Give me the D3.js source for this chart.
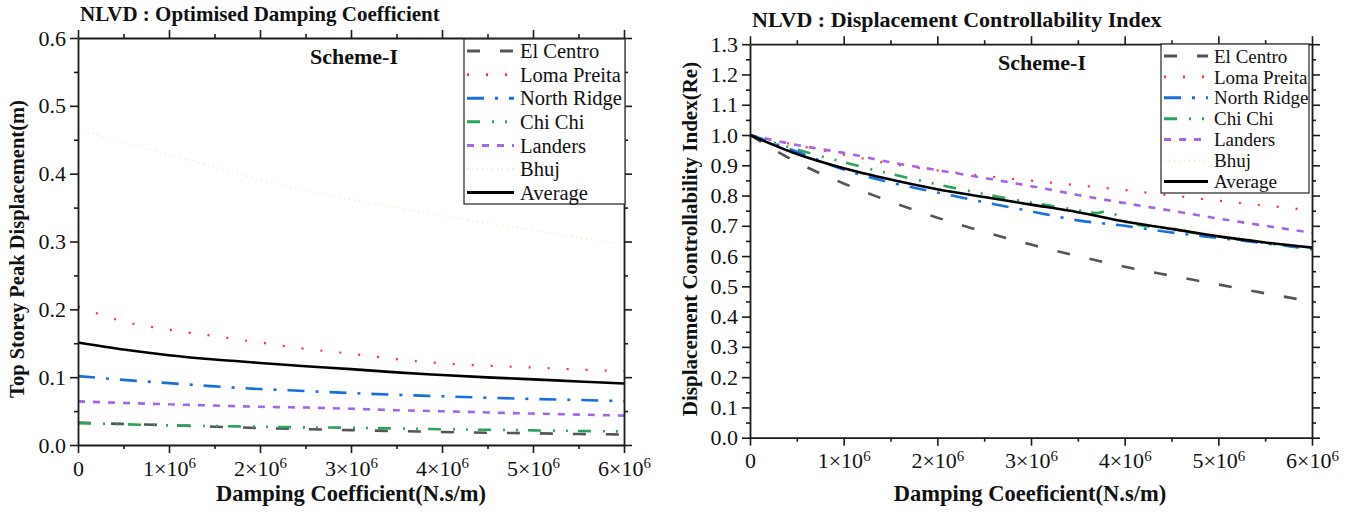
<!DOCTYPE html>
<html>
<head>
<meta charset="utf-8">
<script src="https://cdn.jsdelivr.net/npm/d3@7"></script>
<style>
  body { margin: 0; background: #fff; }
  svg text { font-family: "Liberation Serif", "Times New Roman", "DejaVu Serif", serif; fill: #111; }
</style>
</head>
<body>
<svg id="chart" width="1354" height="512" font-family="Liberation Serif"></svg>
<script>
// damping coefficient values (N.s/m)
const dampX = [0, 0.5e6, 1e6, 1.5e6, 2e6, 2.5e6, 3e6, 3.5e6, 4e6, 4.5e6, 5e6, 5.5e6, 6e6];
const dampXChiChiRe = [0, 0.5e6, 1e6, 1.5e6, 2e6, 2.5e6, 3e6, 3.5e6, 3.7e6, 3.82e6, 3.95e6, 4e6, 4.5e6, 5e6, 5.5e6, 6e6];

const seriesNames = ["El Centro", "Loma Preita", "North Ridge", "Chi Chi", "Landers", "Bhuj", "Average"];

// top storey peak displacement (m)
const peakElCentro = [0.033, 0.031, 0.0292, 0.027, 0.025, 0.0234, 0.0219, 0.0205, 0.0192, 0.018, 0.0173, 0.0162, 0.0155];
const peakLomaPreita = [0.204, 0.182, 0.170, 0.1605, 0.151, 0.1417, 0.1345, 0.1265, 0.1204, 0.1168, 0.1142, 0.1113, 0.1088];
const peakNorthRidge = [0.1015, 0.096, 0.0912, 0.0864, 0.0825, 0.0796, 0.0766, 0.074, 0.0718, 0.0697, 0.0679, 0.0664, 0.0646];
const peakChiChi = [0.032, 0.0306, 0.0289, 0.0279, 0.027, 0.026, 0.0255, 0.0243, 0.0233, 0.0224, 0.0216, 0.0207, 0.020];
const peakLanders = [0.0643, 0.062, 0.060, 0.0582, 0.0563, 0.0552, 0.0534, 0.0513, 0.0498, 0.048, 0.0463, 0.0448, 0.0433];
const peakBhuj = [0.465, 0.446, 0.428, 0.41, 0.391, 0.375, 0.362, 0.35, 0.338, 0.327, 0.317, 0.306, 0.296];
const peakAverage = [0.151, 0.1407, 0.1324, 0.126, 0.121, 0.116, 0.1118, 0.107, 0.1032, 0.0997, 0.0967, 0.0937, 0.0907];

// displacement controllability index (Re)
const reElCentro = [1.0, 0.91, 0.84, 0.78, 0.727, 0.68, 0.638, 0.60, 0.565, 0.535, 0.506, 0.477, 0.45];
const reLomaPreita = [1.0, 0.966, 0.935, 0.905, 0.883, 0.865, 0.849, 0.834, 0.818, 0.80, 0.783, 0.767, 0.751];
const reNorthRidge = [1.0, 0.945, 0.886, 0.843, 0.81, 0.778, 0.748, 0.718, 0.70, 0.678, 0.66, 0.642, 0.625];
const reChiChi = [1.0, 0.952, 0.91, 0.872, 0.837, 0.805, 0.777, 0.752, 0.742, 0.75, 0.725, 0.714, 0.689, 0.664, 0.643, 0.622];
const reLanders = [1.0, 0.967, 0.941, 0.91, 0.884, 0.858, 0.831, 0.802, 0.775, 0.75, 0.724, 0.70, 0.677];
const reBhuj = [1.0, 0.96, 0.93, 0.88, 0.85, 0.81, 0.775, 0.745, 0.72, 0.697, 0.675, 0.65, 0.63];
const reAverage = [1.0, 0.937, 0.89, 0.853, 0.821, 0.795, 0.77, 0.745, 0.714, 0.69, 0.665, 0.645, 0.628];

const xMajor = [0, 1e6, 2e6, 3e6, 4e6, 5e6, 6e6];
const xMinor = [0.5e6, 1.5e6, 2.5e6, 3.5e6, 4.5e6, 5.5e6];

// line styles per series
const styles = {
  "El Centro":   { color: "#555555", width: 2.6, dash: "13,20" },
  "Loma Preita": { color: "#ff3030", width: 2.2, dash: "2,17" },
  "North Ridge": { color: "#1a6fe0", width: 2.6, dash: "17,11,3,11" },
  "Chi Chi":     { color: "#2ca55c", width: 2.6, dash: "13,12,2,11,2,10" },
  "Landers":     { color: "#a466e2", width: 2.6, dash: "7,8" },
  "Bhuj":        { color: "#f1e6bf", width: 1.6, dash: "1,4" },
  "Average":     { color: "#000000", width: 2.6, dash: null }
};

const svg = d3.select("#chart");
const serif = "Liberation Serif";

function superTick(sel) {
  sel.selectAll(".tick text").each(function (d) {
    let t = d3.select(this);
    t.text(null);
    if (d === 0) {
      t.text("0");
    } else {
      t.append("tspan").text((d / 1e6) + "\u00d710");
      t.append("tspan").attr("dy", "-0.5em").attr("font-size", "0.68em").text("6");
    }
  });
}

function drawPanel(cfg) {
  let g = svg.append("g");

  let x = d3.scaleLinear().domain([0, 6e6]).range([cfg.left, cfg.right]);
  let y = d3.scaleLinear().domain([0, cfg.yMax]).range([cfg.bottom, cfg.top]);

  let yMajor = d3.range(0, cfg.yMax + 0.001, 0.1);
  let yMinor = d3.range(0.05, cfg.yMax, 0.1);

  // series lines
  let line = d3.line()
    .x(d => x(d[0]))
    .y(d => y(d[1]))
    .curve(d3.curveMonotoneX);

  cfg.series.forEach(s => {
    let st = styles[s.name];
    let pts = s.xs.map((v, i) => [v, s.ys[i]]);
    g.append("path")
      .datum(pts)
      .attr("d", line)
      .attr("fill", "none")
      .attr("stroke", st.color)
      .attr("stroke-width", st.width)
      .attr("stroke-dasharray", st.dash);
  });

  // axes: major + minor ticks on all four sides
  let axisColor = "#1a1a1a";
  function styleAxis(a) {
    a.attr("font-family", serif);
    a.selectAll("path").attr("stroke", axisColor).attr("stroke-width", 1.8);
    a.selectAll("line").attr("stroke", axisColor).attr("stroke-width", 1.6);
  }

  let bottomAxis = g.append("g")
    .attr("transform", `translate(0,${cfg.bottom})`)
    .call(d3.axisBottom(x).tickValues(xMajor).tickSize(8).tickSizeOuter(0).tickPadding(7));
  bottomAxis.selectAll("text").style("font-size", cfg.tickFont + "px").attr("fill", "#111");
  bottomAxis.call(superTick);
  styleAxis(bottomAxis);

  let bottomMinor = g.append("g")
    .attr("transform", `translate(0,${cfg.bottom})`)
    .call(d3.axisBottom(x).tickValues(xMinor).tickSize(4).tickFormat(""));
  bottomMinor.select(".domain").remove();
  styleAxis(bottomMinor);

  let topAxis = g.append("g")
    .attr("transform", `translate(0,${cfg.top})`)
    .call(d3.axisTop(x).tickValues(xMajor).tickSize(8).tickSizeOuter(0).tickFormat(""));
  styleAxis(topAxis);
  let topMinor = g.append("g")
    .attr("transform", `translate(0,${cfg.top})`)
    .call(d3.axisTop(x).tickValues(xMinor).tickSize(4).tickFormat(""));
  topMinor.select(".domain").remove();
  styleAxis(topMinor);

  let leftAxis = g.append("g")
    .attr("transform", `translate(${cfg.left},0)`)
    .call(d3.axisLeft(y).tickValues(yMajor).tickSize(8).tickSizeOuter(0).tickPadding(4).tickFormat(d3.format(".1f")));
  leftAxis.selectAll("text").style("font-size", cfg.tickFont + "px").attr("fill", "#111");
  styleAxis(leftAxis);
  let leftMinor = g.append("g")
    .attr("transform", `translate(${cfg.left},0)`)
    .call(d3.axisLeft(y).tickValues(yMinor).tickSize(4).tickFormat(""));
  leftMinor.select(".domain").remove();
  styleAxis(leftMinor);

  let rightAxis = g.append("g")
    .attr("transform", `translate(${cfg.right},0)`)
    .call(d3.axisRight(y).tickValues(yMajor).tickSize(8).tickSizeOuter(0).tickFormat(""));
  styleAxis(rightAxis);
  let rightMinor = g.append("g")
    .attr("transform", `translate(${cfg.right},0)`)
    .call(d3.axisRight(y).tickValues(yMinor).tickSize(4).tickFormat(""));
  rightMinor.select(".domain").remove();
  styleAxis(rightMinor);

  // titles and labels
  g.append("text")
    .attr("x", cfg.left + 2)
    .attr("y", cfg.titleY)
    .attr("font-size", cfg.titleFont)
    .attr("font-weight", "bold")
    .text(cfg.title);

  g.append("text")
    .attr("x", cfg.schemeX)
    .attr("y", cfg.schemeY)
    .attr("text-anchor", "middle")
    .attr("font-size", cfg.schemeFont)
    .attr("font-weight", "bold")
    .text("Scheme-I");

  g.append("text")
    .attr("x", cfg.xLabelX)
    .attr("y", 501)
    .attr("text-anchor", "middle")
    .attr("font-size", cfg.xLabelFont)
    .attr("font-weight", "bold")
    .text(cfg.xLabel);

  g.append("text")
    .attr("transform", `translate(${cfg.yLabelX},${cfg.yLabelY}) rotate(-90)`)
    .attr("text-anchor", "middle")
    .attr("font-size", cfg.yLabelFont)
    .attr("font-weight", "bold")
    .text(cfg.yLabel);

  // legend
  let lg = cfg.legend;
  g.append("rect")
    .attr("x", lg.x)
    .attr("y", lg.y)
    .attr("width", lg.w)
    .attr("height", lg.h)
    .attr("fill", "#fff")
    .attr("stroke", "#333")
    .attr("stroke-width", 1.3);

  let items = g.selectAll(".legend-item")
    .data(seriesNames)
    .enter().append("g")
    .attr("class", "legend-item")
    .attr("transform", (d, i) => `translate(${lg.x + 3},${lg.first + i * lg.step})`);

  items.append("line")
    .attr("x1", 0)
    .attr("x2", lg.sample)
    .attr("stroke", d => styles[d].color)
    .attr("stroke-width", d => styles[d].width + 0.4)
    .attr("stroke-dasharray", d => styles[d].dash);

  items.append("text")
    .attr("x", lg.sample + 6)
    .attr("dy", "0.35em")
    .attr("font-size", lg.font)
    .text(d => d);
}

drawPanel({
  left: 78, right: 624, top: 38, bottom: 445, yMax: 0.6,
  tickFont: 22, titleFont: 21, schemeFont: 22, xLabelFont: 22.5, yLabelFont: 20.5,
  title: "NLVD : Optimised Damping Coefficient",
  titleY: 21,
  schemeX: 354, schemeY: 64,
  xLabel: "Damping Coefficient(N.s/m)",
  xLabelX: 351,
  yLabel: "Top Storey Peak Displacement(m)",
  yLabelX: 24, yLabelY: 249,
  legend: { x: 464, y: 39, w: 161, h: 165, first: 51, step: 23.6, sample: 47, font: 20.5 },
  series: [
    { name: "Bhuj", xs: dampX, ys: peakBhuj },
    { name: "El Centro", xs: dampX, ys: peakElCentro },
    { name: "Chi Chi", xs: dampX, ys: peakChiChi },
    { name: "Landers", xs: dampX, ys: peakLanders },
    { name: "North Ridge", xs: dampX, ys: peakNorthRidge },
    { name: "Loma Preita", xs: dampX, ys: peakLomaPreita },
    { name: "Average", xs: dampX, ys: peakAverage }
  ]
});

drawPanel({
  left: 750, right: 1312, top: 44.2, bottom: 437.7, yMax: 1.3,
  tickFont: 22, titleFont: 22, schemeFont: 22, xLabelFont: 22.5, yLabelFont: 21,
  title: "NLVD : Displacement Controllability Index",
  titleY: 27,
  schemeX: 1042, schemeY: 70,
  xLabel: "Damping Coeeficient(N.s/m)",
  xLabelX: 1030,
  yLabel: "Displacement Controllability Index(Re)",
  yLabelX: 697, yLabelY: 239,
  legend: { x: 1161, y: 44, w: 148, h: 149, first: 56, step: 20.9, sample: 44, font: 19 },
  series: [
    { name: "Bhuj", xs: dampX, ys: reBhuj },
    { name: "El Centro", xs: dampX, ys: reElCentro },
    { name: "Loma Preita", xs: dampX, ys: reLomaPreita },
    { name: "Landers", xs: dampX, ys: reLanders },
    { name: "Chi Chi", xs: dampXChiChiRe, ys: reChiChi },
    { name: "North Ridge", xs: dampX, ys: reNorthRidge },
    { name: "Average", xs: dampX, ys: reAverage }
  ]
});
</script>
</body>
</html>
